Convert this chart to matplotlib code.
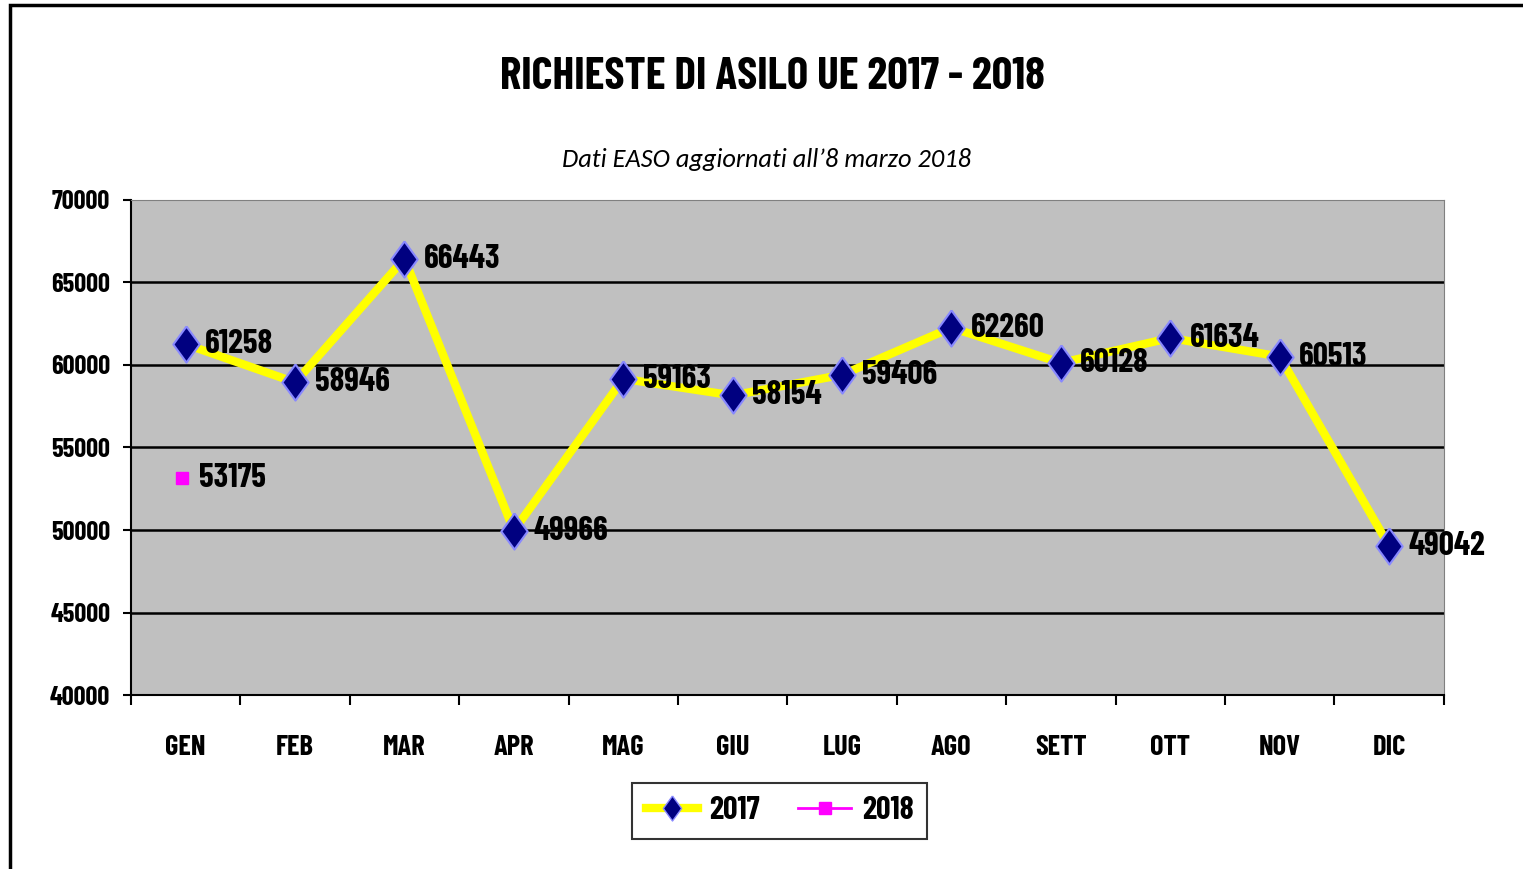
import numpy as np
import matplotlib
matplotlib.use("Agg")
import matplotlib.pyplot as plt
from matplotlib.patches import Rectangle
from matplotlib.lines import Line2D

months = ['GEN', 'FEB', 'MAR', 'APR', 'MAG', 'GIU', 'LUG', 'AGO', 'SETT', 'OTT', 'NOV', 'DIC']
req_2017 = [61258, 58946, 66443, 49966, 59163, 58154, 59406, 62260, 60128, 61634, 60513, 49042]
req_2018 = [53175]
y_ticks = [40000, 45000, 50000, 55000, 60000, 65000, 70000]

plt.rcParams['font.family'] = ['Barlow Condensed', 'DejaVu Sans']

fig = plt.figure(figsize=(15.23, 8.69), dpi=100)
ax = fig.add_axes([0.086, 0.2002, 0.862, 0.5697])
ax.set_facecolor('#C0C0C0')

# outer chart border
fig.patches.append(Rectangle((10 / 1523, -0.1), 1.2, 1 - 5 / 869 + 0.1, transform=fig.transFigure,
                             fill=False, edgecolor='black', linewidth=2.5))

diamond = [(0, 1), (0.73, 0), (0, -1), (-0.73, 0), (0, 1)]
x = np.arange(len(months))
ax.plot(x, req_2017, color='#FFFF00', linewidth=6, marker=diamond, markersize=26,
        markerfacecolor='#000080', markeredgecolor='#8888FF', markeredgewidth=1.5, zorder=3)
x18 = x[:len(req_2018)] - 0.03
ax.plot(x18, req_2018, color='#FF00FF', linestyle='none', marker='s', markersize=8,
        markerfacecolor='#FF00FF', markeredgecolor='#FF00FF', zorder=3)

for xi, v in zip(x, req_2017):
    ax.annotate(str(v), (xi, v), xytext=(14, 0), textcoords='offset points', va='center',
                ha='left', fontsize=24, fontweight='bold', zorder=4, annotation_clip=False)
for xi, v in zip(x18, req_2018):
    ax.annotate(str(v), (xi, v), xytext=(12, 0), textcoords='offset points', va='center',
                ha='left', fontsize=24, fontweight='bold', zorder=4)

ax.set_xlim(-0.5, len(months) - 0.5)
ax.set_ylim(40000, 70000)
ax.set_yticks(y_ticks)
ax.set_yticklabels([str(t) for t in y_ticks], fontsize=19, fontweight='bold')
ax.set_xticks(x)
ax.set_xticklabels(months, fontsize=20.5, fontweight='bold')
ax.set_xticks(np.arange(len(months) + 1) - 0.5, minor=True)
ax.tick_params(axis='x', which='major', length=0, pad=29)
ax.tick_params(axis='x', which='minor', length=7, width=1.5, direction='out')
ax.tick_params(axis='y', length=6, width=1.5, direction='out', pad=9)
for yv in y_ticks[1:-1]:
    ax.axhline(yv, color='black', linewidth=1.8, zorder=1)

ax.spines['left'].set_color('black')
ax.spines['left'].set_linewidth(1.5)
ax.spines['bottom'].set_color('black')
ax.spines['bottom'].set_linewidth(1.5)
ax.spines['top'].set_color('#808080')
ax.spines['right'].set_color('#808080')

fig.text(0.5075, 0.911, 'RICHIESTE DI ASILO UE 2017 - 2018', ha='center', va='center',
         fontsize=32.5, fontweight='bold')
fig.text(0.503, 0.816, 'Dati EASO aggiornati all\u20198 marzo 2018', ha='center', va='center',
         fontsize=19, style='italic', family=['Carlito', 'DejaVu Sans'])

handles = [Line2D([], [], color='#FFFF00', linewidth=6, marker=diamond, markersize=18,
                  markerfacecolor='#000080', markeredgecolor='#8888FF'),
           Line2D([], [], color='#FF00FF', linewidth=2, marker='s', markersize=8,
                  markerfacecolor='#FF00FF', markeredgecolor='#FF00FF')]
leg = fig.legend(handles, ['2017', '2018'], loc='center', bbox_to_anchor=(0.512, 0.067), ncol=2,
                 frameon=True, fancybox=False, edgecolor='black', handlelength=1.65,
                 columnspacing=1.2, handletextpad=0.35, borderpad=0.42,
                 prop={'size': 23, 'weight': 'bold'})
leg.get_frame().set_linewidth(1.5)

fig.savefig('out.png', dpi=100)
